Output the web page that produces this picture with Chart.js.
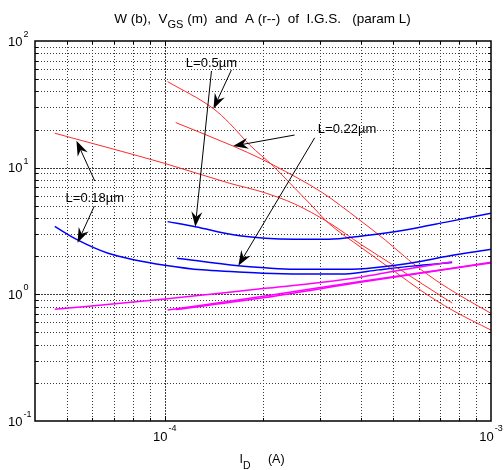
<!DOCTYPE html>
<html>
<head>
<meta charset="utf-8">
<script src="https://cdn.jsdelivr.net/npm/chart.js@4.4.0/dist/chart.umd.min.js"></script>
<style>
  html, body { margin: 0; padding: 0; background: #fff; }
  #wrap { width: 504px; height: 470px; }
</style>
</head>
<body>
<div id="wrap"><canvas id="c" width="504" height="470"></canvas></div>
<script>
// Drain current I_D (A) for each channel length, and the curves drawn against it.
// A: intrinsic gain (red), W: width (blue), VGS (magenta).
const idRedL018 = [4.6e-5, 1.0e-4, 1.58e-4, 2.0e-4, 2.5e-4, 3.18e-4, 4.02e-4, 5.09e-4, 6.06e-4, 7.6e-4];
const aL018     = [18.7, 10.8, 7.53, 6.40, 5.17, 3.69, 2.45, 1.66, 1.24, 0.854];

const idRedL05  = [1.02e-4, 1.41e-4, 1.58e-4, 1.82e-4, 2.15e-4, 2.42e-4, 2.79e-4, 3.18e-4, 4.02e-4, 5.09e-4, 6.14e-4, 7.6e-4, 1.0e-3];
const aL05      = [47.8, 29.2, 22.4, 15.1, 10.3, 7.53, 5.17, 3.64, 2.32, 1.50, 1.06, 0.751, 0.522];

const idRedL022 = [1.08e-4, 1.62e-4, 1.98e-4, 2.15e-4, 3.03e-4, 3.93e-4, 4.74e-4, 5.59e-4, 6.75e-4, 8.15e-4, 1.0e-3];
const aL022     = [22.7, 14.8, 11.7, 10.5, 6.39, 3.91, 2.685, 1.87, 1.30, 0.957, 0.708];

const idBlueL018 = [4.6e-5, 5.4e-5, 6.7e-5, 8.1e-5, 1.0e-4, 1.3e-4, 1.64e-4, 2.0e-4, 2.6e-4, 3.57e-4, 4.52e-4, 5.72e-4, 7.6e-4];
const wL018      = [3.44, 2.69, 2.11, 1.87, 1.70, 1.56, 1.51, 1.47, 1.45, 1.45, 1.56, 1.67, 1.78];

const idBlueL022 = [1.09e-4, 1.68e-4, 2.03e-4, 2.5e-4, 3.75e-4, 5.09e-4, 6.0e-4, 7.42e-4, 1.0e-3];
const wL022      = [1.93, 1.68, 1.62, 1.58, 1.58, 1.70, 1.81, 2.01, 2.27];

const idBlueL05 = [1.02e-4, 1.24e-4, 1.64e-4, 2.03e-4, 2.5e-4, 3.18e-4, 4.02e-4, 5.46e-4, 7.42e-4, 1.0e-3];
const wL05      = [3.75, 3.42, 2.94, 2.77, 2.72, 2.72, 2.89, 3.22, 3.75, 4.36];

const idMagL018 = [4.6e-5, 1.0e-4, 2.03e-4, 3.0e-4, 4.02e-4, 5.09e-4, 7.6e-4];
const vgsL018   = [0.761, 0.918, 1.115, 1.24, 1.37, 1.53, 1.81];

const idMagL05 = [1.02e-4, 2.03e-4, 4.02e-4, 7.6e-4, 1.0e-3];
const vgsL05   = [0.751, 0.97, 1.27, 1.61, 1.79];

const idMagL022 = [1.08e-4, 2.03e-4, 4.02e-4, 7.6e-4, 1.0e-3];
const vgsL022   = [0.758, 0.943, 1.25, 1.60, 1.77];

// Axis ranges and decade labels
const X_MIN = 4e-5, X_MAX = 1e-3;
const Y_MIN = 0.1,  Y_MAX = 100;
const xTickExps = [-4, -3];
const yTickExps = [-1, 0, 1, 2];

// Callout labels and arrows (data coordinates)
const calloutLabels = [
  { text: 'L=0.5\u00B5m',  x: 1.39e-4, y: 67 },
  { text: 'L=0.22\u00B5m', x: 3.62e-4, y: 20.2 },
  { text: 'L=0.18\u00B5m', x: 6.1e-5,  y: 5.76 }
];
const calloutArrows = [
  { from: [1.60e-4, 59],   to: [1.41e-4, 29.2] },
  { from: [1.39e-4, 58],   to: [1.24e-4, 3.42] },
  { from: [2.5e-4, 18.1],  to: [1.62e-4, 14.8] },
  { from: [2.88e-4, 17.2], to: [1.68e-4, 1.68] },
  { from: [6.1e-5, 7.85],  to: [5.36e-5, 16.3] },
  { from: [6.08e-5, 4.98], to: [5.4e-5, 2.55] }
];

const FONT = '"Liberation Sans", Arial, Helvetica, sans-serif';

function pts(xs, ys) { return xs.map((v, i) => ({ x: v, y: ys[i] })); }

function series(xs, ys, color, width) {
  return {
    data: pts(xs, ys),
    borderColor: color,
    borderWidth: width,
    pointRadius: 0,
    fill: false,
    cubicInterpolationMode: 'monotone'
  };
}

function decadeValues(min, max) {
  const out = [];
  for (let e = Math.floor(Math.log10(min)) - 1; e <= Math.ceil(Math.log10(max)); e++) {
    for (let k = 1; k <= 9; k++) {
      const v = k * Math.pow(10, e);
      if (v > min * 1.0001 && v < max * 0.9999) out.push({ v, major: k === 1 });
    }
  }
  return out;
}

function runsWidth(ctx, runs) {
  let w = 0;
  for (const r of runs) { ctx.font = r.size + 'px ' + FONT; w += ctx.measureText(r.t).width; }
  return w;
}
function drawRuns(ctx, runs, x, y) {
  let cx = x;
  for (const r of runs) {
    ctx.font = r.size + 'px ' + FONT;
    ctx.fillText(r.t, cx, y + (r.dy || 0));
    cx += ctx.measureText(r.t).width;
  }
}

function drawArrow(ctx, x0, y0, x1, y1) {
  const ang = Math.atan2(y1 - y0, x1 - x0);
  const len = 15, half = 5.5, notch = 10;
  const bx = x1 - len * Math.cos(ang), by = y1 - len * Math.sin(ang);
  const nx = x1 - notch * Math.cos(ang), ny = y1 - notch * Math.sin(ang);
  const px = -Math.sin(ang) * half, py = Math.cos(ang) * half;
  ctx.beginPath();
  ctx.moveTo(x0, y0);
  ctx.lineTo(nx, ny);
  ctx.stroke();
  ctx.beginPath();
  ctx.moveTo(x1, y1);
  ctx.lineTo(bx + px, by + py);
  ctx.lineTo(nx, ny);
  ctx.lineTo(bx - px, by - py);
  ctx.closePath();
  ctx.fill();
}

const frame = {
  id: 'frame',
  beforeDatasetsDraw(chart) {
    const { ctx, chartArea: a, scales: { x, y } } = chart;
    ctx.save();
    ctx.strokeStyle = '#3a3a3a';
    ctx.lineWidth = 1;
    for (const g of decadeValues(X_MIN, X_MAX)) {
      const px = Math.round(x.getPixelForValue(g.v)) + 0.5;
      ctx.setLineDash(g.major ? [2, 1] : [1, 2]);
      ctx.beginPath(); ctx.moveTo(px, a.top); ctx.lineTo(px, a.bottom); ctx.stroke();
    }
    for (const g of decadeValues(Y_MIN, Y_MAX)) {
      const py = Math.round(y.getPixelForValue(g.v)) + 0.5;
      ctx.setLineDash(g.major ? [2, 1] : [1, 2]);
      ctx.beginPath(); ctx.moveTo(a.left, py); ctx.lineTo(a.right, py); ctx.stroke();
    }
    ctx.restore();
  },
  afterDatasetsDraw(chart) {
    const { ctx, chartArea: a, scales: { x, y } } = chart;
    ctx.save();
    ctx.setLineDash([]);
    ctx.strokeStyle = '#000';
    ctx.fillStyle = '#000';

    // tick marks pointing inward on all four sides
    ctx.lineWidth = 1;
    for (const g of decadeValues(X_MIN, X_MAX)) {
      const px = Math.round(x.getPixelForValue(g.v)) + 0.5;
      const L = g.major ? 5 : 3;
      ctx.beginPath();
      ctx.moveTo(px, a.bottom); ctx.lineTo(px, a.bottom - L);
      ctx.moveTo(px, a.top); ctx.lineTo(px, a.top + L);
      ctx.stroke();
    }
    for (const g of decadeValues(Y_MIN, Y_MAX)) {
      const py = Math.round(y.getPixelForValue(g.v)) + 0.5;
      const L = g.major ? 5 : 3;
      ctx.beginPath();
      ctx.moveTo(a.left, py); ctx.lineTo(a.left + L, py);
      ctx.moveTo(a.right, py); ctx.lineTo(a.right - L, py);
      ctx.stroke();
    }

    // axes box
    ctx.lineWidth = 1.5;
    ctx.strokeRect(Math.round(a.left), Math.round(a.top), Math.round(a.width), Math.round(a.height));

    // decade tick labels
    ctx.textBaseline = 'middle';
    ctx.textAlign = 'left';
    for (const e of yTickExps) {
      const py = y.getPixelForValue(Math.pow(10, e));
      ctx.font = '13px ' + FONT;
      ctx.fillText('10', 8, py + 1);
      const w = ctx.measureText('10').width;
      ctx.font = '9px ' + FONT;
      ctx.fillText(String(e), 8 + w + 1, py - 6.5);
    }
    for (const e of xTickExps) {
      const px = x.getPixelForValue(Math.pow(10, e));
      ctx.font = '13px ' + FONT;
      const w1 = ctx.measureText('10').width;
      ctx.font = '9px ' + FONT;
      const w2 = ctx.measureText(String(e)).width;
      const start = px - (w1 + 1 + w2) / 2;
      ctx.font = '13px ' + FONT;
      ctx.fillText('10', start, 437);
      ctx.font = '9px ' + FONT;
      ctx.fillText(String(e), start + w1 + 1, 429);
    }

    // callout labels and arrows
    ctx.font = '13px ' + FONT;
    ctx.textAlign = 'center';
    for (const c of calloutLabels) {
      ctx.fillText(c.text, x.getPixelForValue(c.x), y.getPixelForValue(c.y));
    }
    ctx.lineWidth = 1;
    for (const ar of calloutArrows) {
      drawArrow(ctx,
        x.getPixelForValue(ar.from[0]), y.getPixelForValue(ar.from[1]),
        x.getPixelForValue(ar.to[0]), y.getPixelForValue(ar.to[1]));
    }

    // title and x-axis label with subscripts
    ctx.textAlign = 'left';
    ctx.textBaseline = 'alphabetic';
    const title = [
      { t: 'W (b),  V', size: 13.5 },
      { t: 'GS', size: 11, dy: 5 },
      { t: ' (m)  and  A (r--)  of  I.G.S.   (param L)', size: 13.5 }
    ];
    const tw = runsWidth(ctx, title);
    drawRuns(ctx, title, 262.5 - tw / 2, 23);

    const xl = [
      { t: 'I', size: 12.5 },
      { t: 'D', size: 10.5, dy: 6 },
      { t: '     (A)', size: 12.5 }
    ];
    drawRuns(ctx, xl, 239.5, 463);
    ctx.restore();
  }
};

new Chart(document.getElementById('c'), {
  type: 'line',
  data: {
    datasets: [
      series(idMagL018, vgsL018, '#ff00ff', 1.5),
      series(idMagL05,  vgsL05,  '#ff00ff', 1.5),
      series(idMagL022, vgsL022, '#ff00ff', 1.5),
      series(idBlueL018, wL018, '#0000ff', 1.5),
      series(idBlueL022, wL022, '#0000ff', 1.5),
      series(idBlueL05,  wL05,  '#0000ff', 1.5),
      series(idRedL018, aL018, '#ff2a2a', 1),
      series(idRedL05,  aL05,  '#ff2a2a', 1),
      series(idRedL022, aL022, '#ff2a2a', 1)
    ]
  },
  options: {
    responsive: false,
    animation: false,
    devicePixelRatio: 1,
    layout: { padding: { top: 41, right: 13, left: 0, bottom: 0 } },
    plugins: { legend: { display: false }, title: { display: false }, tooltip: { enabled: false } },
    scales: {
      x: {
        type: 'logarithmic', min: X_MIN, max: X_MAX,
        ticks: { display: false }, grid: { display: false }, border: { display: false },
        afterFit(s) { s.height = 49; }
      },
      y: {
        type: 'logarithmic', min: Y_MIN, max: Y_MAX,
        ticks: { display: false }, grid: { display: false }, border: { display: false },
        afterFit(s) { s.width = 35; }
      }
    }
  },
  plugins: [frame]
});
</script>
</body>
</html>
